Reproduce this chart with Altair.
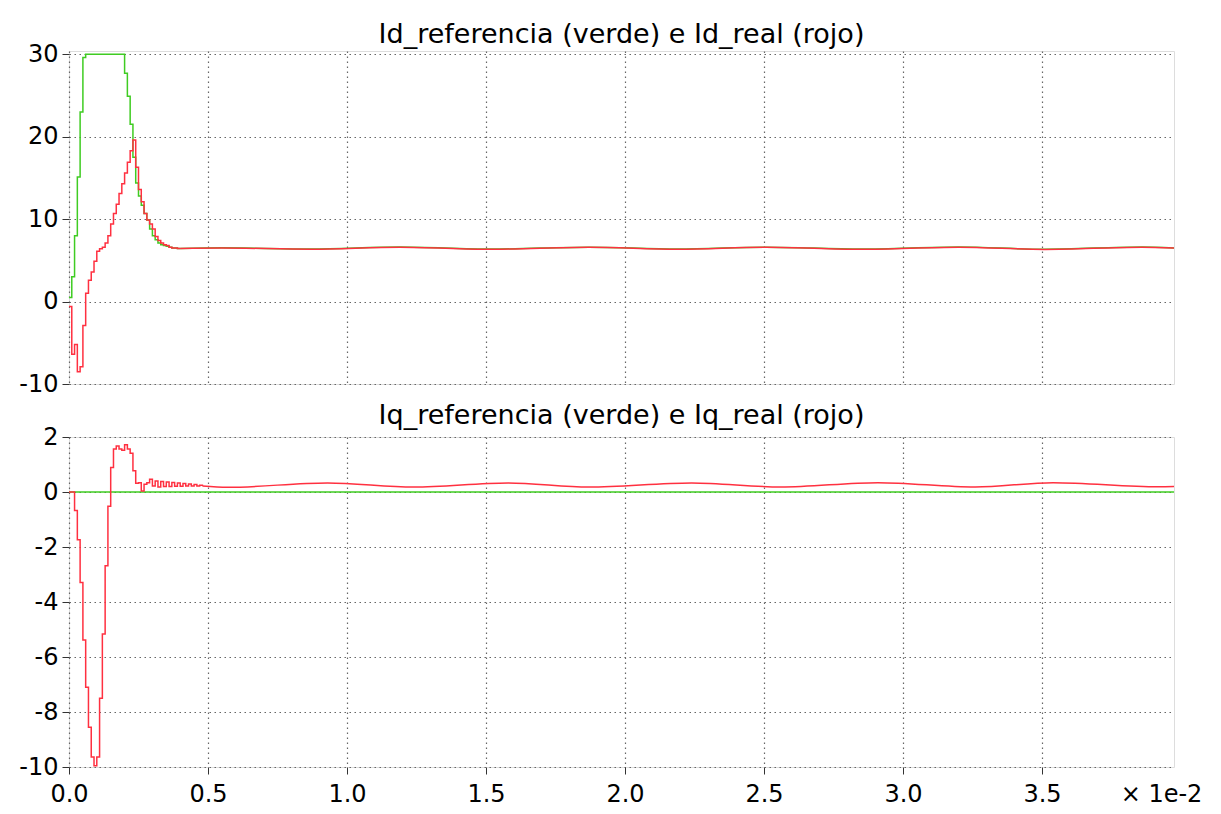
import altair as alt
import pandas as pd

# time axis in units of 1e-2 s (axis is labelled "x 1e-2")
X_MAX = 3.975
X_TICKS = [0.0, 0.5, 1.0, 1.5, 2.0, 2.5, 3.0, 3.5]
Y_TICKS_TOP = [-10, 0, 10, 20, 30]
Y_TICKS_BOT = [-10, -8, -6, -4, -2, 0, 2]

STEP = 0.01  # sample period (x 1e-2 s)

# ---- top panel: Id (sampled, step held) ----
id_ref_steps = [0.5, 3.0, 8.0, 15.1, 23.0, 29.6, 30, 30, 30, 30, 30, 30, 30, 30,
                30, 30, 30, 30, 30, 30, 27.7, 24.9, 21.5, 17.5, 14.4, 12.8, 11.7,
                10.7, 9.9, 8.8, 8.0, 7.5, 7.1, 6.9, 6.8, 6.7, 6.6, 6.5, 6.5, 6.45, 6.45]
id_real_steps = [-0.6, -6.4, -5.2, -8.5, -7.9, -2.9, 1.0, 2.6, 3.6, 4.9, 6.1, 6.4,
                 6.6, 7.1, 8.0, 9.4, 10.7, 11.8, 13.1, 14.3, 15.6, 16.9, 18.3, 19.6,
                 16.3, 13.6, 12.1, 10.7, 9.9, 9.4, 8.8, 7.9, 7.4, 7.1, 6.9, 6.8, 6.6,
                 6.5, 6.5, 6.45, 6.45]
# slow steady-state ripple (read at extremes)
id_smooth_t = [0.40, 0.55, 0.87, 1.19, 1.52, 1.87, 2.19, 2.51, 2.85, 3.20, 3.51, 3.86, 3.975]
id_ref_smooth = [6.45, 6.52, 6.38, 6.62, 6.37, 6.60, 6.37, 6.60, 6.37, 6.62, 6.35, 6.62, 6.50]
id_real_smooth = [6.45, 6.50, 6.35, 6.60, 6.35, 6.60, 6.35, 6.60, 6.35, 6.60, 6.33, 6.60, 6.50]

# ---- bottom panel: Iq ----
iq_ref_t = [0.0, 3.975]
iq_ref_vals = [0.0, 0.0]
iq_real_steps = [0, 0, -0.67, -1.74, -3.29, -5.38, -7.1, -8.55, -9.64, -9.95, -9.64,
                 -7.5, -5.16, -2.68, -0.52, 0.89, 1.56, 1.67, 1.56, 1.52, 1.72, 1.56,
                 1.41, 0.77, 0.32, 0.34, 0.04, 0.28, 0.34, 0.46, 0.22, 0.40, 0.18,
                 0.38, 0.20, 0.36, 0.20, 0.35, 0.21, 0.33, 0.21, 0.31, 0.22, 0.29,
                 0.22, 0.27, 0.22, 0.25, 0.22]
iq_smooth_t = [0.48, 0.57, 0.93, 1.24, 1.58, 1.87, 2.24, 2.56, 2.91, 3.26, 3.54, 3.92, 3.975]
iq_real_smooth = [0.22, 0.17, 0.33, 0.18, 0.33, 0.18, 0.33, 0.18, 0.34, 0.18, 0.34, 0.19, 0.20]

GREEN = "#3fcc22"
RED = "#ff3040"
FONT = "DejaVu Sans"


def step_df(vals):
    return pd.DataFrame({"t": [round(STEP * k, 4) for k in range(len(vals))], "v": vals})


def smooth_df(ts, vals):
    return pd.DataFrame({"t": ts, "v": vals})


def line(df, color, interp, ydom, xaxis, yaxis):
    return alt.Chart(df).mark_line(color=color, strokeWidth=1.5, interpolate=interp, clip=True).encode(
        x=alt.X("t:Q", scale=alt.Scale(domain=[0, X_MAX], nice=False, zero=False), axis=xaxis),
        y=alt.Y("v:Q", scale=alt.Scale(domain=ydom, nice=False, zero=False), axis=yaxis),
    )


common = dict(grid=True, gridColor="#666", gridDash=[1.5, 3.5], gridWidth=1.2,
              labelFont=FONT, labelFontSize=24, labelColor="black")

x_axis_top = alt.Axis(values=X_TICKS, labels=False, ticks=False, domain=False, title=None,
                      minExtent=0, maxExtent=0, **common)
x_axis_bot = alt.Axis(values=X_TICKS, format=".1f", labelFlush=False, ticks=True, tickSize=7,
                      tickColor="#333", domain=False, title="× 1e-2", titleX=1092, titleY=15,
                      titleAlign="center", titleBaseline="top", titleFont=FONT, titleFontSize=24,
                      titleFontWeight="normal", titleColor="black", labelPadding=8,
                      **common)
y_axis_top = alt.Axis(values=Y_TICKS_TOP, title=None, tickSize=7, tickColor="#333", domain=False,
                      minExtent=52, maxExtent=52, labelPadding=4,
                      labelExpr="toString(datum.value)", **common)
y_axis_bot = alt.Axis(values=Y_TICKS_BOT, title=None, tickSize=7, tickColor="#333", domain=False,
                      minExtent=52, maxExtent=52, labelPadding=4,
                      labelExpr="toString(datum.value)", **common)

ydom_top = [-10, 30.4]
ydom_bot = [-10, 2]

top = alt.layer(
    line(step_df(id_ref_steps), GREEN, "step-after", ydom_top, x_axis_top, y_axis_top),
    line(smooth_df(id_smooth_t, id_ref_smooth), GREEN, "monotone", ydom_top, x_axis_top, y_axis_top),
    line(step_df(id_real_steps), RED, "step-after", ydom_top, x_axis_top, y_axis_top),
    line(smooth_df(id_smooth_t, id_real_smooth), RED, "monotone", ydom_top, x_axis_top, y_axis_top),
).properties(
    width=1105, height=333,
    title=alt.TitleParams("Id_referencia (verde) e Id_real (rojo)", font=FONT, fontSize=27,
                          fontWeight="normal", anchor="middle", offset=-7, color="black"),
)

bottom = alt.layer(
    line(smooth_df(iq_ref_t, iq_ref_vals), GREEN, "linear", ydom_bot, x_axis_bot, y_axis_bot),
    line(step_df(iq_real_steps), RED, "step-after", ydom_bot, x_axis_bot, y_axis_bot),
    line(smooth_df(iq_smooth_t, iq_real_smooth), RED, "monotone", ydom_bot, x_axis_bot, y_axis_bot),
).properties(
    width=1105, height=330,
    title=alt.TitleParams("Iq_referencia (verde) e Iq_real (rojo)", font=FONT, fontSize=27,
                          fontWeight="normal", anchor="middle", offset=-5, color="black"),
)

chart = alt.vconcat(top, bottom, spacing=4).properties(
    padding={"left": 8, "top": 12, "right": 5, "bottom": 0}
).configure_view(
    stroke="#555", strokeWidth=1.5,
).configure(background="white")

chart.save("out.html", embed_options={"renderer": "svg", "actions": False})
